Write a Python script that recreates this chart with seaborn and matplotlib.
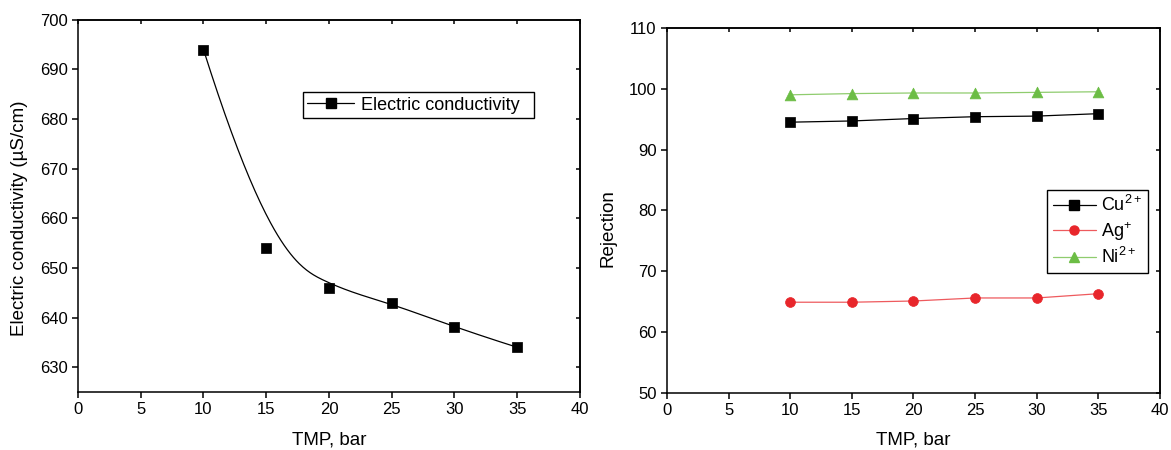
import numpy as np
import pandas as pd
import matplotlib
matplotlib.use("Agg")
import matplotlib.pyplot as plt
import seaborn as sns
from matplotlib.lines import Line2D

# ------------- DATA -------------
tmp_bar = [10, 15, 20, 25, 30, 35]
conductivity = [694, 654, 646, 643, 638, 634]

cu_rej = [94.5, 94.7, 95.1, 95.4, 95.5, 95.9]
ag_rej = [64.9, 64.9, 65.1, 65.6, 65.6, 66.3]
ni_rej = [99.0, 99.2, 99.3, 99.3, 99.4, 99.5]

ion_labels = [r"$\mathregular{Cu^{2+}}$", r"$\mathregular{Ag^{+}}$", r"$\mathregular{Ni^{2+}}$"]
ion_colors = ["black", "#e8262b", "#6cbd45"]
ion_line_colors = ["black", "#ee5a5e", "#8fcc6e"]
ion_markers = ["s", "o", "^"]

# ------------- STYLE -------------
sns.set_style("ticks", {"axes.edgecolor": "black", "text.color": "black",
                        "axes.labelcolor": "black", "xtick.color": "black",
                        "ytick.color": "black"})
plt.rcParams["font.family"] = ["Liberation Sans", "DejaVu Sans"]
plt.rcParams["mathtext.fontset"] = "custom"
plt.rcParams["mathtext.rm"] = "Liberation Sans"
plt.rcParams["axes.linewidth"] = 1.1
plt.rcParams["xtick.major.width"] = 1.1
plt.rcParams["ytick.major.width"] = 1.1


def bspline(cx, cy, n=300, k=3):
    # clamped cubic B-spline using the data points as control points (Origin style)
    m = len(cx)
    t = np.concatenate([np.zeros(k), np.linspace(0, 1, m - k + 1), np.ones(k)])
    u = np.linspace(0, 1, n)

    def basis(i, p):
        if p == 0:
            b = ((t[i] <= u) & (u < t[i + 1])).astype(float)
            if t[i + 1] == 1.0 and t[i] < 1.0:
                b[u == 1.0] = 1.0
            return b
        out = np.zeros_like(u)
        d1 = t[i + p] - t[i]
        d2 = t[i + p + 1] - t[i + 1]
        if d1 > 0:
            out += (u - t[i]) / d1 * basis(i, p - 1)
        if d2 > 0:
            out += (t[i + p + 1] - u) / d2 * basis(i + 1, p - 1)
        return out

    B = np.array([basis(i, k) for i in range(m)])
    return B.T @ np.asarray(cx, float), B.T @ np.asarray(cy, float)


def mirror_ticks(ax, xt, yt):
    top = ax.secondary_xaxis("top")
    top.set_xticks(xt)
    top.tick_params(direction="in", length=3, labeltop=False)
    right = ax.secondary_yaxis("right")
    right.set_yticks(yt)
    right.tick_params(direction="in", length=3, labelright=False)


fig = plt.figure(figsize=(11.71, 4.5), dpi=100)
ax1 = fig.add_axes([0.0666, 0.129, 0.4287, 0.827])
ax2 = fig.add_axes([0.5696, 0.127, 0.421, 0.811])

# ------------- LEFT: conductivity -------------
sx, sy = bspline(tmp_bar, conductivity)
curve = pd.DataFrame({"x": sx, "y": sy})
pts = pd.DataFrame({"TMP": tmp_bar, "EC": conductivity})
sns.lineplot(data=curve, x="x", y="y", ax=ax1, color="black", lw=0.9, sort=False)
sns.scatterplot(data=pts, x="TMP", y="EC", ax=ax1, marker="s", color="black",
                s=42, edgecolor="black", zorder=3)
ax1.set_xlim(0, 40)
ax1.set_ylim(625, 700)
ax1.set_xticks(range(0, 41, 5))
ax1.set_yticks(range(630, 701, 10))
ax1.tick_params(direction="out", length=4, labelsize=12)
ax1.set_xlabel("TMP, bar", fontsize=13.5)
ax1.set_ylabel("Electric conductivity (\u00b5S/cm)", fontsize=13.5)
ax1.xaxis.set_label_coords(0.5, -0.105)
ax1.yaxis.set_label_coords(-0.1, 0.468)
mirror_ticks(ax1, range(0, 41, 5), range(630, 701, 10))
h1 = Line2D([], [], color="black", lw=0.9, marker="s", ms=6.5)
ax1.legend([h1], ["Electric conductivity  "], loc="upper left",
           bbox_to_anchor=(0.448, 0.806), borderaxespad=0, fontsize=13,
           frameon=True, fancybox=False, edgecolor="black", framealpha=1,
           handlelength=2.6, borderpad=0.25, handletextpad=0.35)

# ------------- RIGHT: rejection -------------
series = [cu_rej, ag_rej, ni_rej]
handles = []
for vals, lab, c, lc, m in zip(series, ion_labels, ion_colors, ion_line_colors, ion_markers):
    d = pd.DataFrame({"TMP": tmp_bar, "R": vals})
    sns.lineplot(data=d, x="TMP", y="R", ax=ax2, color=lc, lw=0.9)
    sns.scatterplot(data=d, x="TMP", y="R", ax=ax2, marker=m, color=c,
                    s=50 if m != "^" else 60, edgecolor=c, linewidth=0.5, zorder=3)
    handles.append(Line2D([], [], color=lc, lw=0.9, marker=m, ms=6.5,
                          markerfacecolor=c, markeredgecolor=c))
ax2.set_xlim(0, 40)
ax2.set_ylim(50, 110)
ax2.set_xticks(range(0, 41, 5))
ax2.set_yticks(range(50, 111, 10))
ax2.tick_params(direction="out", length=4, labelsize=12)
ax2.set_xlabel("TMP, bar", fontsize=13.5)
ax2.set_ylabel("Rejection", fontsize=13.5)
ax2.xaxis.set_label_coords(0.5, -0.105)
ax2.yaxis.set_label_coords(-0.103, 0.452)
mirror_ticks(ax2, range(0, 41, 5), range(50, 111, 10))
ax2.legend(handles, ion_labels, loc="upper left", bbox_to_anchor=(0.771, 0.556),
           borderaxespad=0, fontsize=13, frameon=True, fancybox=False,
           edgecolor="black", framealpha=1, handlelength=2.4, borderpad=0.3,
           handletextpad=0.3, labelspacing=0.25)

fig.savefig("out.png", dpi=100)
